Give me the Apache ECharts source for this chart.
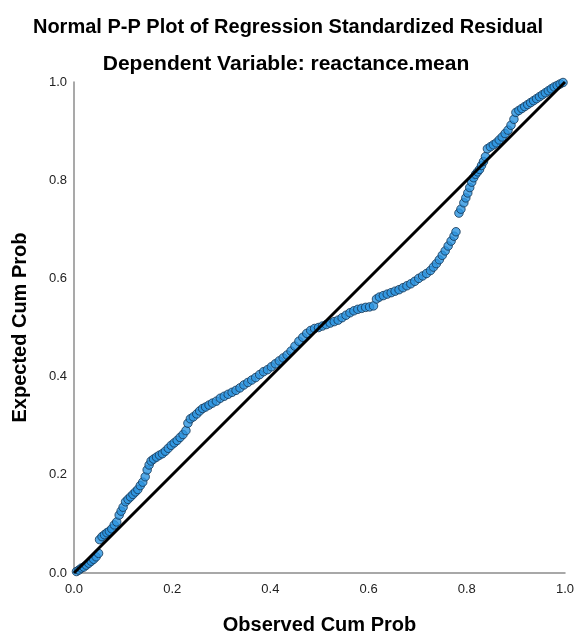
<!DOCTYPE html>
<html>
<head>
<meta charset="utf-8">
<script src="https://cdn.jsdelivr.net/npm/echarts@6/dist/echarts.min.js"></script>
<style>
  html, body { margin: 0; padding: 0; background: #fff; }
  #chart { width: 578px; height: 637px; }
</style>
</head>
<body>
<div id="chart"></div>
<script>
// Observed vs expected cumulative probabilities
const obsProb = [
  0.005, 0.01, 0.015, 0.02, 0.025, 0.03, 0.035, 0.04, 0.045, 0.05,
  0.052, 0.057, 0.062, 0.067, 0.072, 0.077, 0.082, 0.087, 0.092, 0.096,
  0.1, 0.105, 0.11, 0.115, 0.12, 0.125, 0.13, 0.135, 0.14, 0.145,
  0.149, 0.153, 0.157, 0.162, 0.168, 0.174, 0.18, 0.186, 0.192, 0.198,
  0.204, 0.21, 0.216, 0.222, 0.228, 0.232, 0.237, 0.243, 0.25, 0.256,
  0.262, 0.268, 0.275, 0.282, 0.29, 0.298, 0.306, 0.314, 0.322, 0.33,
  0.338, 0.346, 0.354, 0.362, 0.37, 0.378, 0.386, 0.394, 0.402, 0.41,
  0.418, 0.426, 0.434, 0.442, 0.45, 0.458, 0.466, 0.474, 0.482, 0.49,
  0.498, 0.506, 0.514, 0.522, 0.53, 0.538, 0.546, 0.554, 0.562, 0.57,
  0.578, 0.586, 0.594, 0.602, 0.61, 0.616, 0.622, 0.63, 0.638, 0.646,
  0.654, 0.662, 0.67, 0.678, 0.686, 0.694, 0.702, 0.71, 0.718, 0.726,
  0.732, 0.738, 0.744, 0.75, 0.756, 0.762, 0.768, 0.774, 0.778, 0.784,
  0.788, 0.794, 0.798, 0.802, 0.806, 0.81, 0.814, 0.818, 0.822, 0.826,
  0.83, 0.834, 0.838, 0.842, 0.848, 0.854, 0.86, 0.866, 0.872, 0.878,
  0.884, 0.89, 0.896, 0.9, 0.906, 0.912, 0.918, 0.924, 0.93, 0.936,
  0.942, 0.948, 0.954, 0.96, 0.966, 0.972, 0.978, 0.984, 0.99, 0.996
];
const expProb = [
  0.003, 0.006, 0.01, 0.012, 0.016, 0.02, 0.024, 0.028, 0.033, 0.04,
  0.068, 0.074, 0.078, 0.082, 0.085, 0.09, 0.098, 0.104, 0.118, 0.126,
  0.134, 0.145, 0.15, 0.155, 0.16, 0.165, 0.17, 0.178, 0.185, 0.196,
  0.21, 0.22, 0.228, 0.232, 0.236, 0.24, 0.243, 0.248, 0.254, 0.26,
  0.265, 0.27, 0.276, 0.282, 0.29, 0.305, 0.314, 0.318, 0.324, 0.33,
  0.335, 0.338, 0.342, 0.346, 0.35, 0.356, 0.36, 0.364, 0.368, 0.372,
  0.377, 0.383, 0.388, 0.393, 0.398, 0.404, 0.41, 0.414, 0.42, 0.426,
  0.432, 0.438, 0.444, 0.452, 0.462, 0.472, 0.48, 0.488, 0.494, 0.498,
  0.5, 0.503, 0.506, 0.509, 0.512, 0.515, 0.52, 0.525, 0.53, 0.534,
  0.537, 0.539, 0.541, 0.542, 0.544, 0.558, 0.562, 0.565, 0.568, 0.571,
  0.574, 0.577, 0.581, 0.585, 0.589, 0.594, 0.6, 0.605, 0.61, 0.616,
  0.623, 0.63, 0.638, 0.647, 0.656, 0.666, 0.676, 0.686, 0.695, 0.733,
  0.741, 0.754, 0.764, 0.774, 0.785, 0.796, 0.805, 0.812, 0.817, 0.822,
  0.83, 0.838, 0.848, 0.864, 0.868, 0.872, 0.876, 0.882, 0.888, 0.895,
  0.902, 0.912, 0.924, 0.938, 0.942, 0.946, 0.95, 0.954, 0.958, 0.962,
  0.966, 0.97, 0.974, 0.978, 0.982, 0.986, 0.99, 0.993, 0.996, 0.999
];
const refLine = [[0, 0], [1, 1]];
const tickLabels = ['0.0', '0.2', '0.4', '0.6', '0.8', '1.0'];

const chart = echarts.init(document.getElementById('chart'));
const font = 'Arial, "Liberation Sans", sans-serif';
const boldText = { fontFamily: font, fontSize: 20, fontWeight: 'bold', color: '#000' };

const axisCommon = {
  type: 'value',
  min: 0,
  max: 1,
  interval: 0.2,
  nameLocation: 'middle',
  nameTextStyle: boldText,
  axisLine: { show: true, lineStyle: { color: '#8c8c8c', width: 1.5 } },
  axisTick: { show: false },
  splitLine: { show: false },
  axisLabel: {
    fontFamily: font, fontSize: 13, color: '#222',
    formatter: v => tickLabels[Math.round(v * 5)]
  }
};

chart.setOption({
  animation: false,
  backgroundColor: '#fff',
  title: [
    {
      text: 'Normal P-P Plot of Regression Standardized Residual',
      left: 283, top: 12, textAlign: 'center',
      textStyle: boldText
    },
    {
      text: 'Dependent Variable: reactance.mean',
      left: 281, top: 49, textAlign: 'center',
      textStyle: Object.assign({}, boldText, { fontSize: 21 })
    }
  ],
  grid: { left: 74, right: 13, top: 82, bottom: 64, outerBoundsMode: 'none' },
  xAxis: Object.assign({}, axisCommon, {
    name: 'Observed Cum Prob',
    nameGap: 42,
    axisLabel: Object.assign({}, axisCommon.axisLabel, { margin: 10 })
  }),
  yAxis: Object.assign({}, axisCommon, {
    name: 'Expected Cum Prob',
    nameGap: 44,
    axisLabel: Object.assign({}, axisCommon.axisLabel, { margin: 7 })
  }),
  series: [
    {
      type: 'scatter',
      data: obsProb.map((x, i) => [x, expProb[i]]),
      symbolSize: 8.5,
      itemStyle: { color: '#2a93e0', borderColor: '#123352', borderWidth: 1 },
      z: 2
    },
    {
      type: 'line',
      data: refLine,
      symbol: 'none',
      lineStyle: { color: '#000', width: 3 },
      z: 3
    }
  ]
});
</script>
</body>
</html>
